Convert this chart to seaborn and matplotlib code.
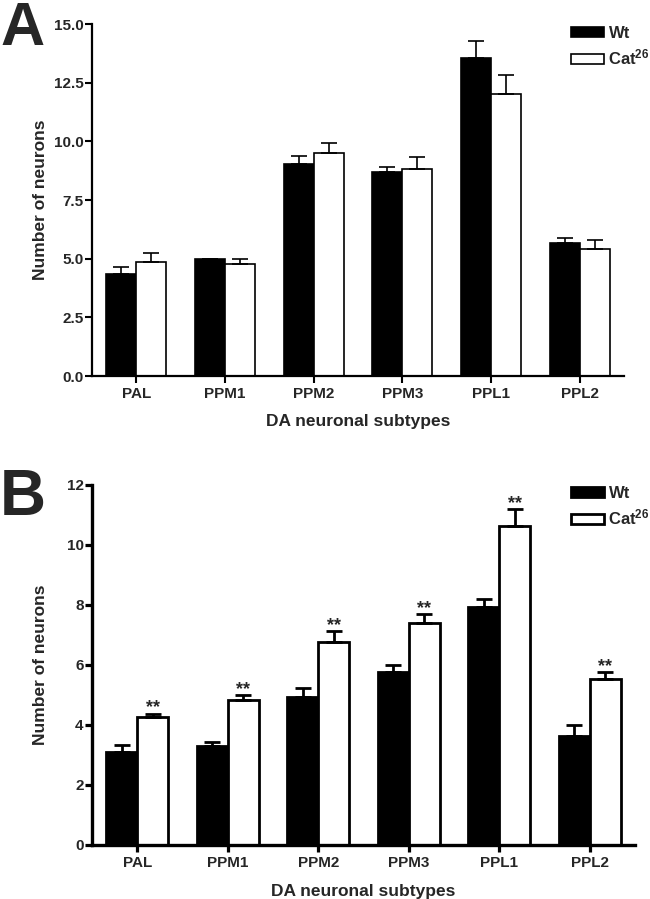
import pandas as pd
import matplotlib
matplotlib.use("Agg")
import matplotlib.pyplot as plt
import seaborn as sns
from matplotlib.patches import Patch

# ----------------------------------------------------------------------------------------------
# Data (mean and upper SEM)
# ----------------------------------------------------------------------------------------------
subtypes = ["PAL", "PPM1", "PPM2", "PPM3", "PPL1", "PPL2"]
genotypes = ["Wt", "Cat26"]

# panel A
a_wt = [4.34, 5.00, 9.03, 8.69, 13.54, 5.67]
a_wt_sem = [0.31, 0.0, 0.35, 0.21, 0.75, 0.20]
a_cat = [4.85, 4.76, 9.51, 8.84, 12.00, 5.43]
a_cat_sem = [0.41, 0.24, 0.43, 0.49, 0.81, 0.37]
a_yticks = [0.0, 2.5, 5.0, 7.5, 10.0, 12.5, 15.0]

# panel B
b_wt = [3.11, 3.30, 4.92, 5.76, 7.92, 3.63]
b_wt_sem = [0.22, 0.15, 0.30, 0.23, 0.29, 0.36]
b_cat = [4.27, 4.84, 6.76, 7.40, 10.64, 5.53]
b_cat_sem = [0.11, 0.15, 0.37, 0.29, 0.55, 0.23]
b_stars = ["**", "**", "**", "**", "**", "**"]
b_yticks = [0, 2, 4, 6, 8, 10, 12]

# ----------------------------------------------------------------------------------------------
sns.set_style("ticks")
plt.rcParams["font.family"] = ["Liberation Sans", "DejaVu Sans"]
plt.rcParams["font.weight"] = "bold"
plt.rcParams["axes.labelweight"] = "bold"
plt.rcParams["mathtext.fontset"] = "custom"
plt.rcParams["mathtext.rm"] = "Liberation Sans:bold"
plt.rcParams["mathtext.it"] = "Liberation Sans:bold"
plt.rcParams["mathtext.bf"] = "Liberation Sans:bold"

fig = plt.figure(figsize=(6.5, 8.99), dpi=100)
W, H = 650, 899


def px_axes(left, right, top, bottom):
    return fig.add_axes([left / W, 1 - bottom / H, (right - left) / W, (bottom - top) / H])


def draw_panel(ax, wt, wt_sem, cat, cat_sem, yticks, fmt, lw, xlabelpad, stars=None):
    df = pd.DataFrame({
        "subtype": subtypes * 2,
        "genotype": ["Wt"] * len(subtypes) + ["Cat26"] * len(subtypes),
        "value": wt + cat,
    })
    sns.barplot(data=df, x="subtype", y="value", hue="genotype", hue_order=genotypes,
                palette={"Wt": "black", "Cat26": "white"}, saturation=1,
                edgecolor="black", linewidth=lw, width=0.68, errorbar=None,
                legend=False, ax=ax)
    for cont, sems in zip(ax.containers, [wt_sem, cat_sem]):
        for bar, s in zip(cont, sems):
            xc = bar.get_x() + bar.get_width() / 2
            h = bar.get_height()
            ax.errorbar(xc, h, yerr=[[0], [s]], fmt="none", ecolor="black",
                        elinewidth=lw, capsize=6, capthick=lw, zorder=1)
    if stars is not None:
        for bar, s, st in zip(ax.containers[1], cat_sem, stars):
            xc = bar.get_x() + bar.get_width() / 2
            ax.annotate(st, (xc, bar.get_height() + s), xytext=(0, 1),
                        textcoords="offset points", ha="center", va="baseline",
                        fontsize=13, fontweight="bold")
    ax.set_xlim(-0.5, len(subtypes) - 0.5)
    ax.set_ylim(yticks[0], yticks[-1])
    ax.set_yticks(yticks)
    ax.set_yticklabels([fmt.format(v) for v in yticks])
    ax.set_xlabel("DA neuronal subtypes", fontsize=12.5, fontweight="bold", labelpad=xlabelpad)
    ax.set_ylabel("Number of neurons", fontsize=12.5, fontweight="bold")
    width_px = ax.get_position().width * W
    ax.yaxis.set_label_coords(-44 / width_px, 0.5)
    ax.tick_params(axis="both", labelsize=11, length=5, width=lw + 0.3, color="black")
    ax.tick_params(axis="x", pad=3)
    ax.tick_params(axis="y", pad=1)
    for lab in ax.get_xticklabels() + ax.get_yticklabels():
        lab.set_fontweight("bold")
    sns.despine(ax=ax)
    for sp in ["left", "bottom"]:
        ax.spines[sp].set_linewidth(lw + 0.4)
        ax.spines[sp].set_color("black")
    ax.set_facecolor("white")


def add_legend(x_px, y_px, lw):
    handles = [Patch(facecolor="black", edgecolor="black", linewidth=lw),
               Patch(facecolor="white", edgecolor="black", linewidth=lw)]
    fig.legend(handles, ["Wt", "Cat$^{26}$"], loc="upper left",
               bbox_to_anchor=(x_px / W, 1 - y_px / H), frameon=False,
               handlelength=1.95, handleheight=0.55,
               handletextpad=0.3, labelspacing=0.4, borderpad=0, borderaxespad=0,
               prop={"weight": "bold", "size": 12})


ax_a = px_axes(92, 624, 24, 376)
draw_panel(ax_a, a_wt, a_wt_sem, a_cat, a_cat_sem, a_yticks, "{:.1f}", 1.2, 9)
add_legend(571, 26, 1.2)

ax_b = px_axes(92, 635, 485, 845)
draw_panel(ax_b, b_wt, b_wt_sem, b_cat, b_cat_sem, b_yticks, "{:d}", 2.0, 10, stars=b_stars)
add_legend(571, 486, 2.0)

fig.text(0.0, 1 - 45 / H, "A", fontsize=44, fontweight="bold", va="baseline", ha="left")
fig.text(0.0, 1 - 515 / H, "B", fontsize=46, fontweight="bold", va="baseline", ha="left")

plt.savefig("out.png", dpi=100, facecolor="white")
plt.close()
